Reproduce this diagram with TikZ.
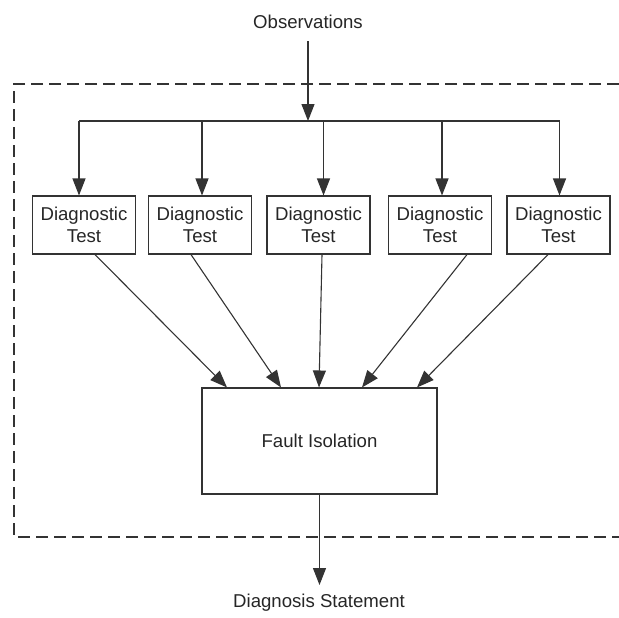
\documentclass[tikz,border=0pt]{standalone}
\usepackage{fontspec}
\setmainfont{Liberation Sans}
\usetikzlibrary{arrows.meta}
\begin{document}
\begin{tikzpicture}[x=.5pt, y=-.5pt, >={Triangle[length=8.5pt,width=6.5pt]},
  font=\fontsize{9.3}{11}\selectfont, every node/.style={text=black!85},
  line/.style={draw=black!80, line width=.55pt},
  testbox/.style={draw=black!80, line width=.55pt, minimum width=51.5pt, minimum height=29pt, inner sep=0pt, align=center}]
  \useasboundingbox (0,0) rectangle (619,617);

  % system boundary, open to the right
  \draw[line, dash pattern=on 6pt off 3pt] (619,84) -- (14,84) -- (14,537) -- (619,537);

  \node[anchor=base] (obs) at (308,28) {Observations};
  \coordinate (split) at (308,121);
  \draw[line, ->] (obs.south |- 0,41) -- (split);

  \node[testbox] (t1) at (84,225) {Diagnostic\\Test};
  \node[testbox] (t2) at (200,225) {Diagnostic\\Test};
  \node[testbox] (t3) at (318.5,225) {Diagnostic\\Test};
  \node[testbox] (t4) at (440,225) {Diagnostic\\Test};
  \node[testbox] (t5) at (558.5,225) {Diagnostic\\Test};

  \node[draw=black!80, line width=.55pt, minimum width=117.5pt, minimum height=53pt, inner sep=0pt] (fault) at (319.5,441) {Fault Isolation};

  \draw[line] ([xshift=-2.5pt]t1.north |- split) -- ([xshift=.5pt]t5.north |- split);
  \foreach \t/\dx in {t1/-2.5pt, t2/1pt, t3/2.5pt, t4/1pt, t5/.5pt}
    \draw[line, ->] ([xshift=\dx]\t.north |- split) -- ([xshift=\dx]\t.north);

  \foreach \t/\sx/\ex in {t1/5.5pt/-46.25pt, t2/-4.5pt/-19.25pt, t3/1.75pt/-.25pt, t4/13.5pt/21.25pt, t5/-5.25pt/48.75pt}
    \draw[line, ->] ([xshift=\sx]\t.south) -- ([xshift=\ex]fault.north);

  \node[anchor=base] (diag) at (319,607) {Diagnosis Statement};
  \draw[line, ->] (fault.south) -- (fault.south |- 0,585);
\end{tikzpicture}
\end{document}
